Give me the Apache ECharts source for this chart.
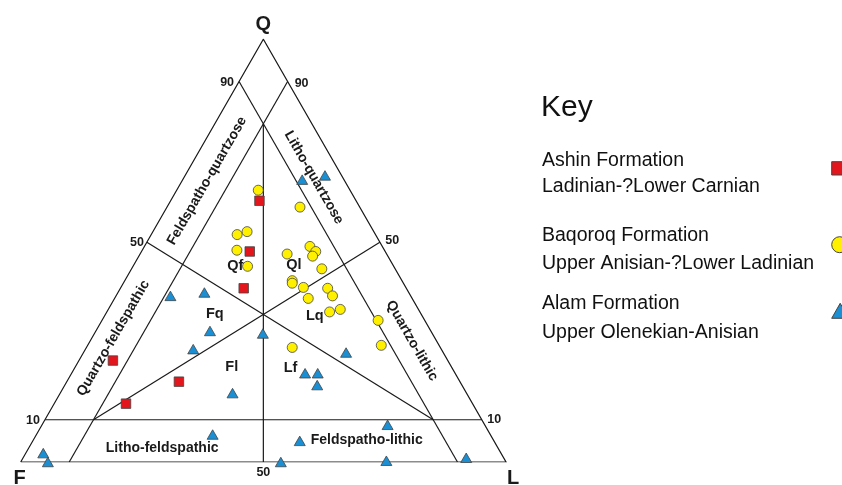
<!DOCTYPE html>
<html>
<head>
<meta charset="utf-8">
<script src="https://cdn.jsdelivr.net/npm/echarts@6/dist/echarts.min.js"></script>
<style>
  html, body { margin: 0; padding: 0; background: #ffffff; }
  #chart { width: 842px; height: 485px; }
</style>
</head>
<body>
<div id="chart"></div>
<script>
// Framework-grain composition of each sample, as [Q, F, L] percentages
const ashin = [
  [61.8, 19.9, 18.3],
  [49.8, 27.9, 22.3],
  [41.1, 33.5, 25.4],
  [24.0, 69.0, 7.0],
  [19.0, 57.9, 23.1],
  [13.8, 71.4, 14.8]
];
const baqoroq = [
  [64.3, 18.9, 16.8],
  [60.3, 12.3, 27.4],
  [53.8, 28.5, 17.7],
  [54.5, 26.1, 19.4],
  [50.1, 30.4, 19.5],
  [46.3, 30.1, 23.6],
  [49.2, 20.5, 30.3],
  [51.0, 14.9, 34.1],
  [49.8, 14.3, 35.9],
  [48.7, 15.5, 35.8],
  [45.7, 15.1, 39.2],
  [42.9, 22.6, 34.5],
  [42.3, 22.9, 34.8],
  [41.3, 21.1, 37.6],
  [41.1, 16.2, 42.7],
  [39.3, 16.1, 44.6],
  [38.7, 21.4, 39.9],
  [36.1, 16.1, 47.8],
  [35.5, 18.6, 45.9],
  [33.5, 9.6, 56.9],
  [27.6, 11.9, 60.5],
  [27.1, 30.5, 42.4]
];
const alam = [
  [66.8, 8.6, 24.6],
  [67.8, 3.4, 28.8],
  [39.3, 49.5, 11.2],
  [40.1, 42.1, 17.8],
  [31.0, 45.5, 23.5],
  [26.7, 51.1, 22.2],
  [30.4, 34.9, 34.7],
  [16.3, 48.2, 35.5],
  [25.9, 20.0, 54.1],
  [21.0, 30.9, 48.1],
  [21.0, 28.3, 50.7],
  [18.2, 29.8, 52.0],
  [8.8, 20.0, 71.2],
  [5.0, 40.0, 55.0],
  [6.5, 57.2, 36.3],
  [2.1, 94.3, 3.6],
  [0.0, 94.4, 5.6],
  [0.0, 46.4, 53.6],
  [0.3, 24.5, 75.2],
  [1.0, 7.7, 91.3]
];

// Series names and key text
const formations = ['Ashin Formation', 'Baqoroq Formation', 'Alam Formation'];
const stages = ['Ladinian-?Lower Carnian', 'Upper Anisian-?Lower Ladinian', 'Upper Olenekian-Anisian'];

// Triangle outline and field boundaries, end points as [Q, F, L]
const outline = [[0, 100, 0], [0, 0, 100], [100, 0, 0], [0, 100, 0]];
const boundaries = [
  [[10, 90, 0], [10, 0, 90]],
  [[90, 10, 0], [0, 10, 90]],
  [[90, 0, 10], [0, 90, 10]],
  [[80, 10, 10], [0, 50, 50]],
  [[52, 48, 0], [10, 10, 80]],
  [[52, 0, 48], [10, 80, 10]]
];

// Apex names, side tick labels and field names: [text, [Q, F, L], pixel offset]
const apexLabels = [
  ['Q', [100, 0, 0], [0, -15]],
  ['F', [0, 100, 0], [-1, 16]],
  ['L', [0, 0, 100], [7, 16]]
];
const tickLabels = [
  ['90', [90, 10, 0], [-12, 1]],
  ['90', [90, 0, 10], [14, 2]],
  ['50', [52, 48, 0], [-10, 0]],
  ['50', [52, 0, 48], [12.5, -1.5]],
  ['10', [10, 90, 0], [-12, 1]],
  ['10', [10, 0, 90], [12.5, 0]],
  ['50', [0, 50, 50], [0, 10.5]]
];
// [text, centre as [Q, F, L], rotation in degrees]
const classLabels = [
  ['Feldspatho-quartzose', [66.5, 28.35, 5.15], 60],
  ['Litho-quartzose', [67.3, 5.95, 26.75], -60],
  ['Quartzo-feldspathic', [29.3, 66.25, 4.45], 60],
  ['Quartzo-lithic', [28.7, 5.05, 66.25], -60],
  ['Litho-feldspathic', [3.3, 69.2, 27.5], 0],
  ['Feldspatho-lithic', [5.2, 26.1, 68.7], 0]
];
const fieldLabels = [
  ['Qf', [46.4, 32.6, 21.0]],
  ['Ql', [46.5, 20.45, 33.05]],
  ['Fq', [34.9, 42.55, 22.55]],
  ['Fl', [22.5, 45.25, 32.25]],
  ['Lq', [34.6, 22.1, 43.3]],
  ['Lf', [22.2, 33.3, 44.5]]
];

const FONT = '"Liberation Sans", Arial, Helvetica, sans-serif';
const INK = '#1a1a1a';
const RED = '#e3161d';
const YELLOW = '#fff000';
const BLUE = '#1b8fd3';
const EDGE = '#444444';

// Ternary [Q, F, L] -> cartesian [x, y] with F at the left, L at the right, Q at the top
function toXY(p) {
  const s = p[0] + p[1] + p[2];
  return [(p[2] + p[0] / 2) / s * 100, p[0] / s * 100];
}

function textItem(text, pos, opts) {
  return {
    value: toXY(pos),
    label: Object.assign({
      show: true,
      formatter: text,
      position: 'inside',
      align: 'center',
      verticalAlign: 'middle',
      color: INK,
      fontFamily: FONT,
      fontWeight: 'bold'
    }, opts)
  };
}

const annotations = []
  .concat(apexLabels.map(a => textItem(a[0], a[1], { fontSize: 20, offset: a[2] })))
  .concat(tickLabels.map(t => textItem(t[0], t[1], { fontSize: 12.5, offset: t[2] })))
  .concat(classLabels.map(c => textItem(c[0], c[1], { fontSize: 14, rotate: c[2] })))
  .concat(fieldLabels.map(f => textItem(f[0], f[1], { fontSize: 14.5 })));

const chart = echarts.init(document.getElementById('chart'), null, { renderer: 'canvas' });

const keyText = [];
const keyTop = [160.7, 236, 303.3];
const keySub = [186.7, 263.5, 333];
formations.forEach((name, i) => {
  keyText.push({
    type: 'text', silent: true,
    style: { text: name, x: 542, y: keyTop[i], fill: '#111', font: '19.5px ' + FONT, align: 'left', verticalAlign: 'middle' }
  });
  keyText.push({
    type: 'text', silent: true,
    style: { text: stages[i], x: 542, y: keySub[i], fill: '#111', font: '19.5px ' + FONT, align: 'left', verticalAlign: 'middle' }
  });
});

chart.setOption({
  animation: false,
  backgroundColor: '#ffffff',
  grid: { left: 20.7, top: 39.3, width: 485.3, height: 422.7, containLabel: false },
  xAxis: { type: 'value', min: 0, max: 100, show: false },
  yAxis: { type: 'value', min: 0, max: 100, show: false },
  series: [
    {
      type: 'lines',
      coordinateSystem: 'cartesian2d',
      polyline: true,
      silent: true,
      z: 1,
      lineStyle: { color: INK, width: 1.2, opacity: 1 },
      data: [{ coords: outline.map(toXY) }].concat(boundaries.map(b => ({ coords: b.map(toXY) })))
    },
    {
      name: formations[0],
      type: 'scatter',
      clip: false,
      z: 3,
      symbol: 'rect',
      symbolSize: 9.5,
      itemStyle: { color: RED, borderColor: EDGE, borderWidth: 0.8, opacity: 1 },
      data: ashin.map(toXY)
    },
    {
      name: formations[1],
      type: 'scatter',
      clip: false,
      z: 4,
      symbol: 'circle',
      symbolSize: 10,
      itemStyle: { color: YELLOW, borderColor: EDGE, borderWidth: 0.8, opacity: 1 },
      data: baqoroq.map(toXY)
    },
    {
      name: formations[2],
      type: 'scatter',
      clip: false,
      z: 5,
      symbol: 'triangle',
      symbolSize: [11, 9.5],
      itemStyle: { color: BLUE, borderColor: EDGE, borderWidth: 0.8, opacity: 1 },
      data: alam.map(toXY)
    },
    {
      type: 'scatter',
      clip: false,
      silent: true,
      z: 6,
      symbol: 'circle',
      symbolSize: 1,
      itemStyle: { color: 'rgba(0,0,0,0)', opacity: 1 },
      data: annotations
    }
  ],
  graphic: [
    {
      type: 'text', silent: true,
      style: { text: 'Key', x: 541, y: 107.5, fill: '#111', font: '30px ' + FONT, align: 'left', verticalAlign: 'middle' }
    }
  ].concat(keyText).concat([
    {
      type: 'rect', silent: true,
      shape: { x: 831.7, y: 161.7, width: 13.3, height: 13.3 },
      style: { fill: RED, stroke: EDGE, lineWidth: 1 }
    },
    {
      type: 'circle', silent: true,
      shape: { cx: 839.7, cy: 244.7, r: 8 },
      style: { fill: YELLOW, stroke: EDGE, lineWidth: 1 }
    },
    {
      type: 'polygon', silent: true,
      shape: { points: [[831.7, 318.3], [840.2, 303.3], [848.7, 318.3]] },
      style: { fill: BLUE, stroke: EDGE, lineWidth: 1 }
    }
  ])
});
</script>
</body>
</html>
